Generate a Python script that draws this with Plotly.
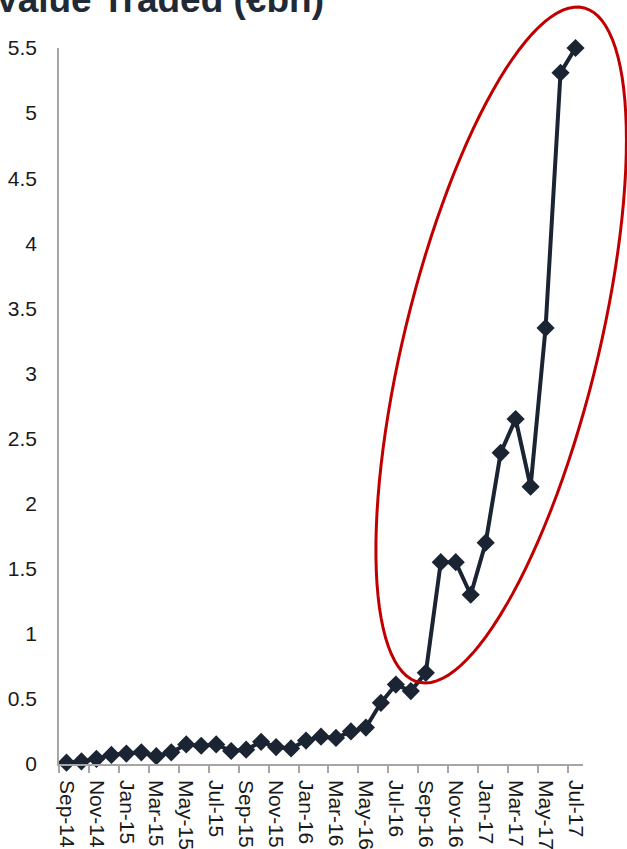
import numpy as np
import plotly.graph_objects as go

months = ["Sep-14", "Oct-14", "Nov-14", "Dec-14", "Jan-15", "Feb-15", "Mar-15", "Apr-15",
          "May-15", "Jun-15", "Jul-15", "Aug-15", "Sep-15", "Oct-15", "Nov-15", "Dec-15",
          "Jan-16", "Feb-16", "Mar-16", "Apr-16", "May-16", "Jun-16", "Jul-16", "Aug-16",
          "Sep-16", "Oct-16", "Nov-16", "Dec-16", "Jan-17", "Feb-17", "Mar-17", "Apr-17",
          "May-17", "Jun-17", "Jul-17"]
value_traded = [0.01, 0.02, 0.04, 0.07, 0.08, 0.09, 0.06, 0.09,
                0.15, 0.14, 0.15, 0.10, 0.11, 0.17, 0.13, 0.12,
                0.18, 0.21, 0.20, 0.25, 0.28, 0.47, 0.61, 0.56,
                0.70, 1.55, 1.55, 1.30, 1.70, 2.39, 2.65, 2.13,
                3.35, 5.31, 5.50]
y_ticks = [0, 0.5, 1, 1.5, 2, 2.5, 3, 3.5, 4, 4.5, 5, 5.5]
title_text = "Value Traded (€bn)"

W, H = 627, 849
ML, MR, MT, MB = 58.5, 43.5, 48, 85
PW = W - ML - MR
PH = H - MT - MB

def px_to_paper(px, py):
    return (px - ML) / PW, (H - MB - py) / PH

# highlight ellipse (pixel geometry -> paper coords)
t = np.linspace(0, 2 * np.pi, 120)
ex = 501.5 + 125.5 * np.cos(t)
ey = 345 - 205 * np.cos(t) + 268.7 * np.sin(t)
pts = [px_to_paper(a, b) for a, b in zip(ex, ey)]
path = "M " + " L ".join(f"{a:.5f},{b:.5f}" for a, b in pts) + " Z"

FONT = "Liberation Sans, Arial, sans-serif"
navy = "#1b2433"
axis_gray = "#a6a6a6"

fig = go.Figure()
fig.add_trace(go.Scatter(
    x=months, y=value_traded, mode="lines+markers",
    line=dict(color=navy, width=4),
    marker=dict(symbol="diamond", size=14, color=navy),
    cliponaxis=False, showlegend=False,
))

fig.add_shape(type="path", xref="paper", yref="paper", path=path,
              line=dict(color="#c00000", width=3), fillcolor="rgba(0,0,0,0)")

tx, ty = px_to_paper(-8, 22)
fig.add_annotation(text="<b>" + title_text + "</b>", xref="paper", yref="paper",
                   x=tx, y=ty, xanchor="left", yanchor="bottom", showarrow=False,
                   font=dict(family=FONT, size=37, color="#1f2a36"))

fig.update_layout(
    width=W, height=H,
    margin=dict(l=ML, r=MR, t=MT, b=MB, pad=0, autoexpand=False),
    plot_bgcolor="white", paper_bgcolor="white",
    font=dict(family=FONT, size=21, color="#1a1a1a"),
)
fig.update_xaxes(
    type="category", range=[-0.5, len(months) - 0.5], automargin=False,
    tickmode="linear", tick0=0, dtick=2, tickson="boundaries",
    ticks="outside", ticklen=7, tickwidth=1.5, tickcolor=axis_gray,
    tickangle=90, showline=True, linecolor=axis_gray, linewidth=1.5,
    showgrid=False, zeroline=False, tickfont=dict(size=21), ticklabelstandoff=10,
)
fig.update_yaxes(
    range=[0, 5.5], tickmode="array", tickvals=y_ticks, automargin=False,
    showline=True, linecolor=axis_gray, linewidth=1.5,
    ticks="", showgrid=False, zeroline=False, ticklabelstandoff=16,
    tickfont=dict(size=21),
)

fig.write_html("out.html", config={"displayModeBar": False},
               post_script="document.body.style.margin='0';")
